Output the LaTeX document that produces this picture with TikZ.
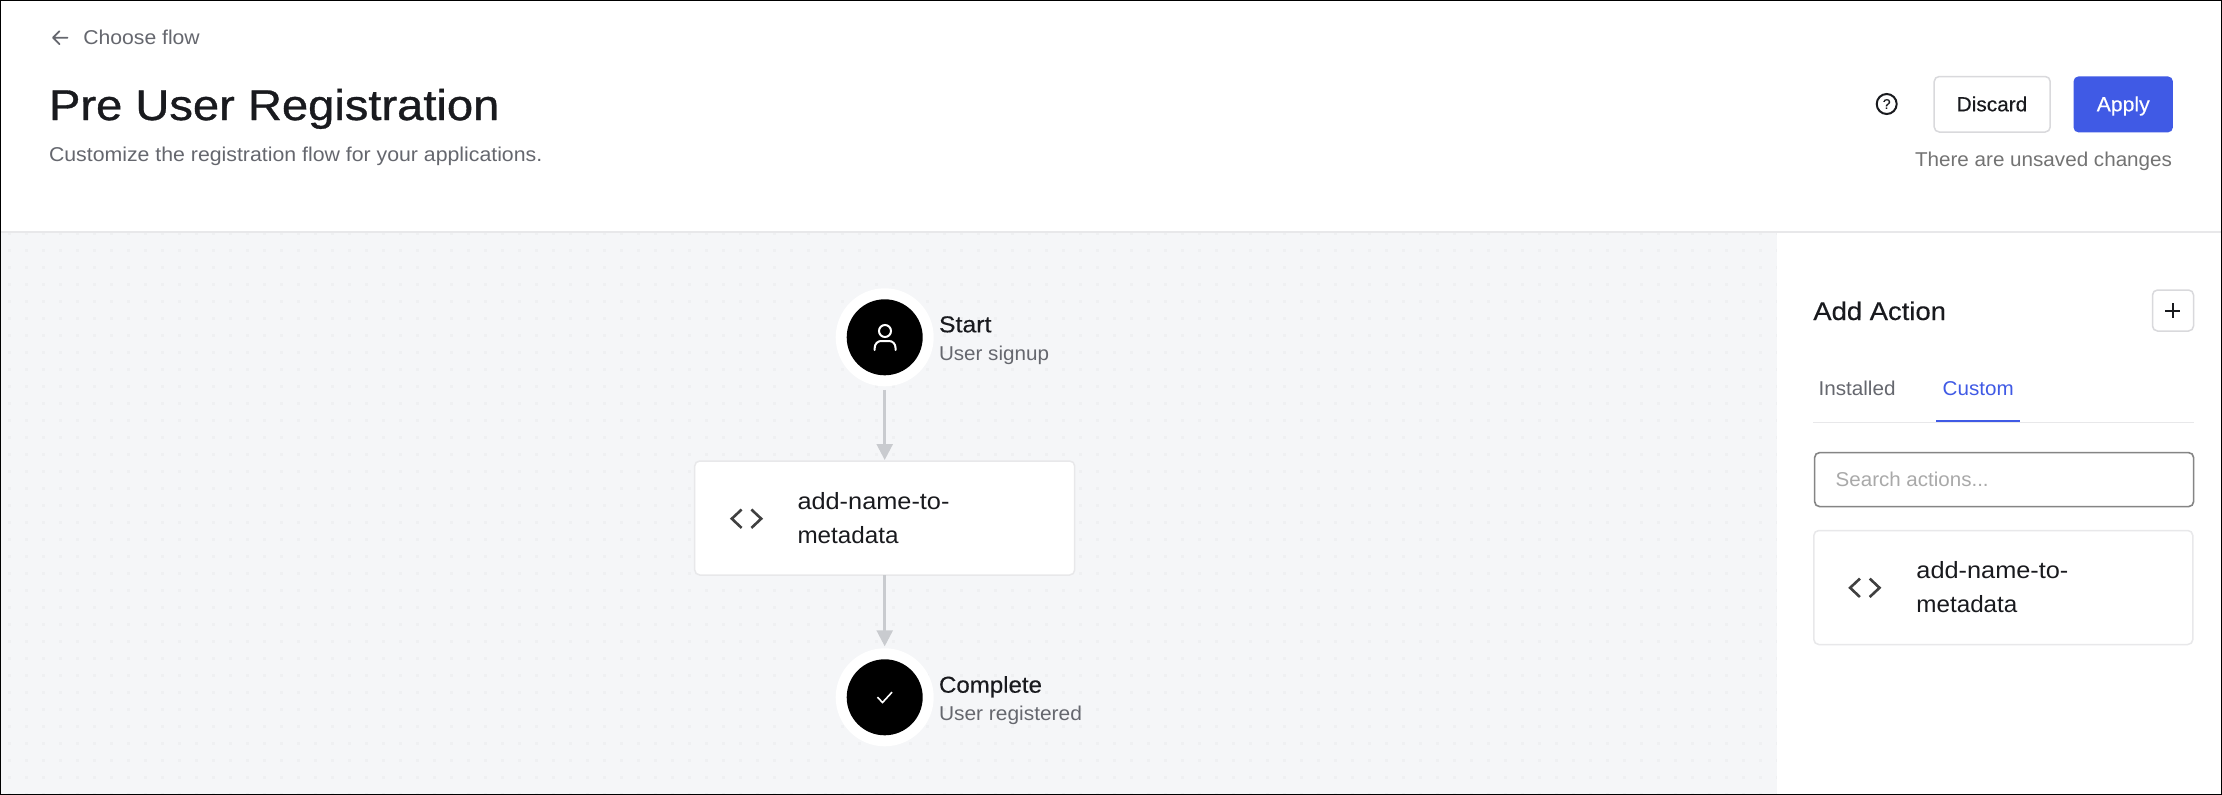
\documentclass[tikz,border=0pt]{standalone}
\usepackage{graphicx}
\usepackage{fontspec}
\usetikzlibrary{arrows.meta}
\setmainfont{Liberation Sans}
\newfontfamily\medfont[FakeBold=0.3]{Liberation Sans}
\newfontfamily\titlefont[FakeBold=0.8]{Liberation Sans}
\definecolor{ink}{HTML}{191A1E}
\definecolor{greytxt}{HTML}{65676E}
\definecolor{softtxt}{HTML}{737373}
\definecolor{holder}{HTML}{A9A9A9}
\definecolor{hair}{HTML}{E8E8EA}
\definecolor{btnline}{HTML}{D9D9DC}
\definecolor{canvasbg}{HTML}{F5F6F8}
\definecolor{dotc}{HTML}{EFF0F2}
\definecolor{wire}{HTML}{C9CBCF}
\definecolor{brandblue}{HTML}{405AE5}
\definecolor{iconc}{HTML}{404040}
\newcommand{\fitw}[2]{\resizebox{#1pt}{\height}{#2}}
\tikzset{
  tbase/.style={inner sep=0pt,outer sep=0pt,anchor=base west,text=ink},
  tbody/.style={tbase,font=\fontsize{20}{24}\selectfont},
  tgrey/.style={tbody,text=greytxt},
  tname/.style={tbase,font=\medfont\fontsize{23}{28}\selectfont},
  cardbox/.style={draw=hair,line width=1.5pt,fill=white,rounded corners=5pt,anchor=north west,inner sep=0pt,outer sep=0pt},
  btnbox/.style={draw=btnline,line width=1.5pt,fill=white,rounded corners=5pt,anchor=north west,inner sep=0pt,outer sep=0pt},
  ringc/.style={circle,fill=white,minimum size=98pt,inner sep=0pt,outer sep=0pt},
  discc/.style={circle,fill=black,minimum size=76pt,inner sep=0pt,outer sep=0pt},
  wired/.style={draw=wire,line width=2.5pt,-{Triangle[width=16pt,length=16pt]}},
  cardtext/.style={tbase,align=left,font=\fontsize{23.5}{34}\selectfont},
  codeicon/.style={draw=iconc,line width=2.6pt},
}
\begin{document}
\begin{tikzpicture}[x=1pt,y=-1pt]
\useasboundingbox (0,0) rectangle (2222,795);
\fill[white] (0,0) rectangle (2222,795);
% canvas and its dots
\fill[canvasbg] (0,233) rectangle (1777,795);
\foreach \i in {0,...,104}{\foreach \j in {0,...,33}{
    \fill[dotc] ({9.3+17*\i-1.5},{233.5+17*\j-1.5}) rectangle ++(3,3);
}}
\fill[white] (1777,233) rectangle (2222,795);
\draw[hair,line width=1.6pt] (0,232) -- (2222,232);
% header
\draw[greytxt,line width=1.8pt,line cap=round,line join=round] (67.5,37.7) -- (53.5,37.7) (59.5,31.2) -- (53,37.7) -- (59.5,44.2);
\node[tgrey] (back) at (83.4,44.3) {\fitw{116.4}{Choose flow}};
\node[tbase,font=\titlefont\fontsize{43}{50}\selectfont] (title) at (49,120) {\fitw{450.4}{Pre User Registration}};
\node[tgrey] (sub) at (49,161) {\fitw{493.3}{Customize the registration flow for your applications.}};
\node[circle,draw=ink,line width=2pt,minimum size=20pt,inner sep=0pt,font=\medfont\fontsize{14}{14}\selectfont,text=ink] (help) at (1886.7,104) {?};
\node[btnbox,minimum width=116pt,minimum height=55.5pt] (discard) at (1934.2,76.5) {};
\node[tbody,font=\medfont\fontsize{20.5}{24}\selectfont] (discardt) at (1956.7,111.3) {\fitw{70.6}{Discard}};
\node[rounded corners=5pt,fill=brandblue,anchor=north west,minimum width=99.4pt,minimum height=56pt,inner sep=0pt] (apply) at (2073.3,76.2) {};
\node[tbody,text=white,font=\medfont\fontsize{20.5}{24}\selectfont] (applyt) at (2096.7,111.3) {\fitw{53}{Apply}};
\node[tbody,text=softtxt] (unsaved) at (1915,166.7) {\fitw{257}{There are unsaved changes}};
% flow
\node[ringc] (startring) at (884.7,337.3) {};
\node[discc] (startdisc) at (884.7,337.3) {};
\node[ringc] (donering) at (884.7,697.3) {};
\node[discc] (donedisc) at (884.7,697.3) {};
\node[cardbox,minimum width=380pt,minimum height=114pt] (action) at (694.7,461) {};
\draw[wired,shorten <=3.5pt,shorten >=1pt] (startring) -- (action);
\draw[wired,shorten <=0pt,shorten >=2pt] (action) -- (donering);
\draw[white,line width=2pt] (885,331) circle (6);
\draw[white,line width=2pt,line cap=round] (874.6,350) -- (874.6,348.5) .. controls (874.6,343.5) and (878,341) .. (881,341) -- (889,341) .. controls (892.5,341) and (895.6,343.5) .. (895.6,348.5) -- (895.6,350);
\draw[white,line width=1.6pt] (877.5,697.2) -- (882.5,702.5) -- (892,692.2);
\node[tname] (startt) at (939,332.3) {\fitw{52.4}{Start}};
\node[tgrey] (starts) at (939,360) {\fitw{110}{User signup}};
\node[tname] (donet) at (939,692.7) {\fitw{103}{Complete}};
\node[tgrey] (dones) at (939,720.7) {\fitw{143}{User registered}};
\draw[codeicon] (741.6,509.5) -- (731.8,518.7) -- (741.6,527.9) (751.4,509.5) -- (761.2,518.7) -- (751.4,527.9);
\node[cardtext] (actiont) at (797.5,543.3) {\fitw{152}{add-name-to-}\\\fitw{101}{metadata}};
% side panel
\node[tbase,font=\medfont\fontsize{25.5}{30}\selectfont] (addt) at (1813.3,320) {\fitw{132.7}{Add Action}};
\node[btnbox,minimum width=41pt,minimum height=41pt] (plus) at (2152.5,290) {};
\draw[ink,line width=2pt] (2165.2,310.7) -- (2180.2,310.7) (2172.7,303.2) -- (2172.7,318.2);
\node[tgrey] (installed) at (1818.5,395) {\fitw{77}{Installed}};
\node[tbody,text=brandblue] (custom) at (1942.7,395) {\fitw{71}{Custom}};
\draw[hair,line width=1.5pt] (1813,422.7) -- (2194,422.7);
\draw[brandblue,line width=2.8pt] (1936.3,420.9) -- (2020,420.9);
\node[draw=black!48,line width=1.6pt,fill=white,rounded corners=5pt,anchor=north west,minimum width=379pt,minimum height=54pt,inner sep=0pt] (search) at (1813.8,451.8) {};
\node[tbody,text=holder] (searcht) at (1835.7,486) {\fitw{153}{Search actions...}};
\node[cardbox,minimum width=379pt,minimum height=114pt] (item) at (1813.8,530.5) {};
\draw[codeicon] (1859.9,578.6) -- (1850.1,587.8) -- (1859.9,597) (1869.7,578.6) -- (1879.5,587.8) -- (1869.7,597);
\node[cardtext] (itemt) at (1916.4,612.3) {\fitw{152}{add-name-to-}\\\fitw{101}{metadata}};
% frame
\draw[black,line width=2pt] (0,0) rectangle (2222,795);
\end{tikzpicture}
\end{document}
